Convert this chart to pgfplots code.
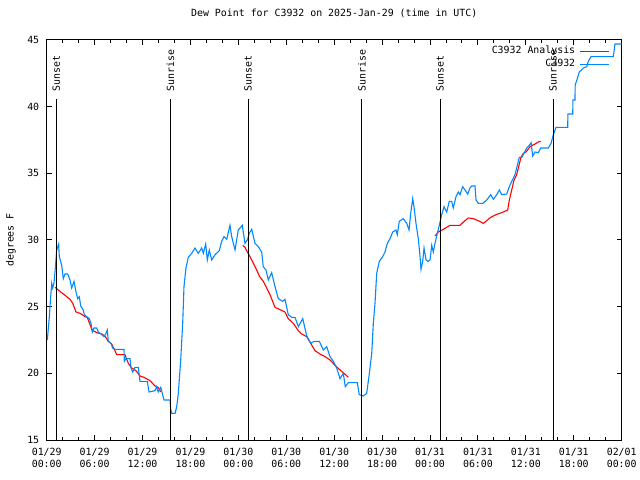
\documentclass[border=0pt]{standalone}
\usepackage{fontspec}
\setmainfont{DejaVu Sans Mono}
\usepackage{pgfplots}
\pgfplotsset{compat=1.18}
\definecolor{obsblue}{RGB}{0,136,255}
\definecolor{anred}{RGB}{255,0,0}
\newcommand\myfont{\fontsize{9.9bp}{12bp}\selectfont}
\begin{document}
\begin{tikzpicture}[font=\myfont]
\useasboundingbox (0,0) rectangle (640bp,480bp);
\begin{axis}[
  at={(46.7bp,40bp)}, anchor=south west,
  scale only axis, width=575bp, height=400bp,
  xmin=0, xmax=72, ymin=15, ymax=45,
  axis line style={line width=1bp},
  tick style={line width=1bp, black},
  tick align=inside, tick pos=both,
  major tick length=5bp, minor tick length=3bp,
  xtick={0,6,...,72}, minor x tick num=2,
  xticklabels={{01/29\\00:00},{01/29\\06:00},{01/29\\12:00},{01/29\\18:00},{01/30\\00:00},{01/30\\06:00},{01/30\\12:00},{01/30\\18:00},{01/31\\00:00},{01/31\\06:00},{01/31\\12:00},{01/31\\18:00},{02/01\\00:00}},
  xticklabel style={align=center, font=\myfont, yshift=-5bp},
  ytick={15,20,...,45},
  yticklabel style={font=\myfont, xshift=-4bp},
  /pgf/number format/assume math mode=true,
  ylabel={degrees F},
  ylabel style={at={(axis description cs:0,0.5)}, anchor=center, yshift=35.7bp, font=\myfont},
  title={Dew Point for C3932 on 2025-Jan-29 (time in UTC)},
  title style={at={(axis description cs:0.5,1)}, anchor=center, yshift=21bp, font=\myfont},
  unbounded coords=jump,
  legend style={at={(axis description cs:1,1)}, anchor=north east, xshift=-11.7bp, yshift=-4.5bp,
    draw=none, fill=none, inner sep=0pt, row sep=0pt, column sep=3bp,
    nodes={inner sep=1.5bp, text height=7.5bp, text depth=2.5bp, font=\myfont}},
  legend plot pos=right, legend cell align=right,
  legend image code/.code={\draw[#1] (0bp,0bp) -- (29bp,0bp);},
]
% Analysis (red)
\addplot[anred, line width=1.1bp] coordinates {
(1.04,26.45) (1.45,26.25) (2.08,25.95) (2.50,25.75) (2.92,25.55) (3.26,25.25) (3.67,24.6) (4.17,24.5)
(4.80,24.25) (5.08,24.2) (5.33,23.8) (5.67,23.25) (6.26,23.05) (6.89,22.95) (7.30,22.8) (7.71,22.4)
(8.14,22.2) (8.77,21.4) (9.80,21.4) (10.22,20.75) (10.64,20.4) (11.18,20.2) (11.68,19.8) (12.18,19.7)
(12.94,19.45) (13.56,19.05) (13.97,18.95) (14.28,18.6)
(20,nan)
(24.54,29.6) (24.83,29.45) (25.12,29.1) (25.46,28.75) (25.87,28.25) (26.30,27.75) (26.62,27.3) (27.12,26.9)
(27.55,26.4) (27.96,25.9) (28.59,24.95) (29.13,24.8) (29.84,24.6) (30.25,24.1) (30.88,23.75) (31.51,23.2)
(31.93,22.95) (32.56,22.75) (33.06,22.25) (33.60,21.7) (34.22,21.45) (34.85,21.25) (35.48,21.0) (36.10,20.6)
(36.73,20.25) (37.23,20.0) (37.77,19.7)
(43,nan)
(48.62,30.3) (49.04,30.6) (49.66,30.8) (50.50,31.1) (51.75,31.1) (52.38,31.45) (52.79,31.65) (53.42,31.6)
(54.04,31.45) (54.67,31.25) (55.10,31.45) (55.60,31.7) (56.26,31.9) (56.98,32.05) (57.73,32.25) (57.93,33.0)
(58.23,33.75) (58.52,34.5) (58.85,34.9) (59.14,35.6) (59.39,36.2) (59.68,36.5) (60.02,36.6) (60.52,37.0)
(61.15,37.2) (61.56,37.35) (61.86,37.4)
};
\addlegendentry{C3932 Analysis}
% Observations (blue)
\addplot[obsblue, line width=1.1bp] coordinates {
(0.08,22.5) (0.33,24.25) (0.50,25.75) (0.63,26.75) (0.75,26.4) (0.91,26.75) (1.08,27.9) (1.25,29.25)
(1.50,29.7) (1.58,28.75) (1.88,28.1) (2.08,27.1) (2.29,27.45) (2.63,27.45) (2.92,27.0) (3.13,26.4)
(3.42,26.9) (3.67,26.1) (3.88,25.6) (4.08,25.75) (4.26,25.05) (4.58,24.75) (4.71,24.4) (5.01,24.25)
(5.33,24.1) (5.55,23.75) (5.71,23.1) (5.92,23.4) (6.26,23.4) (6.46,23.1) (6.89,22.9) (7.18,22.75)
(7.43,23.0) (7.59,23.25) (7.71,22.4) (8.05,22.25) (8.26,21.9) (8.55,21.8) (9.68,21.8) (9.72,20.9)
(9.93,21.1) (10.43,21.1) (10.56,20.4) (10.77,20.1) (11.06,20.45) (11.47,20.45) (11.68,19.4) (12.60,19.4)
(12.81,18.6) (13.56,18.7) (13.77,19.0) (13.97,18.6) (14.28,18.95) (14.69,18.0) (15.44,18.0) (15.53,17.3)
(15.65,17.0) (16.07,17.0) (16.28,17.5) (16.48,18.5) (16.78,21.0) (17.03,23.75) (17.19,26.5) (17.44,27.9)
(17.73,28.7) (18.16,29.0) (18.57,29.4) (18.98,29.0) (19.41,29.4) (19.61,29.0) (19.91,29.7) (20.11,28.5)
(20.36,29.25) (20.66,28.5) (21.08,28.9) (21.61,29.2) (21.91,29.9) (22.20,30.25) (22.54,30.05) (22.95,31.1)
(23.17,30.25) (23.58,29.25) (23.99,30.75) (24.49,31.1) (24.83,29.75) (25.12,30.0) (25.37,30.5) (25.67,30.8)
(26.08,29.75) (26.50,29.5) (26.92,29.1) (27.12,28.0) (27.46,27.75) (27.75,27.0) (28.17,27.55) (28.59,26.5)
(29.00,25.6) (29.55,25.4) (29.84,25.55) (30.25,24.4) (30.68,24.2) (31.09,24.2) (31.51,23.5) (32.06,24.1)
(32.56,22.8) (33.06,22.25) (33.47,22.4) (34.14,22.4) (34.64,21.75) (35.06,22.0) (35.48,21.25) (35.89,20.9)
(36.31,20.4) (36.73,19.6) (37.14,20.0) (37.39,19.0) (37.77,19.3) (38.89,19.3) (39.14,18.4) (39.64,18.3)
(40.07,18.5) (40.40,20.0) (40.70,21.5) (40.90,23.75) (41.11,25.25) (41.32,27.5) (41.65,28.4) (42.07,28.75)
(42.36,29.1) (42.65,29.75) (42.99,30.1) (43.33,30.6) (43.74,30.75) (43.90,30.4) (44.15,31.4) (44.65,31.6)
(45.08,31.25) (45.37,30.75) (45.58,32.0) (45.83,33.1) (45.99,32.5) (46.24,31.25) (46.53,30.1) (46.75,28.75)
(46.87,27.8) (47.08,28.4) (47.25,29.4) (47.50,28.5) (47.78,28.4) (48.00,28.5) (48.21,29.6) (48.41,29.1)
(48.62,29.75) (48.91,30.5) (49.16,31.1) (49.46,31.9) (49.75,32.5) (50.09,32.1) (50.41,32.9) (50.71,32.9)
(50.91,32.4) (51.25,33.25) (51.54,33.6) (51.75,33.4) (52.09,34.0) (52.38,33.75) (52.72,33.45) (53.00,33.9)
(53.22,34.05) (53.63,34.05) (53.76,33.0) (54.04,32.75) (54.60,32.75) (55.10,33.0) (55.60,33.4) (55.93,33.05)
(56.35,33.4) (56.68,33.75) (56.98,33.4) (57.60,33.45) (57.93,34.0) (58.23,34.4) (58.64,34.9) (58.93,35.6)
(59.18,36.2) (59.48,36.2) (59.77,36.5) (60.11,36.9) (60.43,37.1) (60.65,37.3) (60.86,36.3) (61.15,36.6)
(61.56,36.55) (61.86,36.9) (62.81,36.9) (63.15,37.25) (63.44,37.9) (63.78,38.45) (65.24,38.45) (65.26,39.45)
(65.87,39.45) (65.89,40.5) (66.15,40.5) (66.17,41.6) (66.44,42.1) (66.69,42.6) (67.20,42.9) (67.62,43.0)
(67.82,43.4) (68.16,43.75) (70.95,43.75) (71.16,44.7) (72.0,44.7)
};
\addlegendentry{C3932}
% Sunset / sunrise markers
\addplot[black, line width=1bp, forget plot] coordinates {(1.20,15) (1.20,40.58)};
\addplot[black, line width=1bp, forget plot] coordinates {(15.48,15) (15.48,40.58)};
\addplot[black, line width=1bp, forget plot] coordinates {(25.21,15) (25.21,40.58)};
\addplot[black, line width=1bp, forget plot] coordinates {(39.48,15) (39.48,40.58)};
\addplot[black, line width=1bp, forget plot] coordinates {(49.25,15) (49.25,40.58)};
\addplot[black, line width=1bp, forget plot] coordinates {(63.40,15) (63.40,40.58)};
\node[rotate=90, anchor=west, inner sep=0pt] at ([yshift=7bp]axis cs:1.20,40.58) {Sunset};
\node[rotate=90, anchor=west, inner sep=0pt] at ([yshift=7bp]axis cs:15.48,40.58) {Sunrise};
\node[rotate=90, anchor=west, inner sep=0pt] at ([yshift=7bp]axis cs:25.21,40.58) {Sunset};
\node[rotate=90, anchor=west, inner sep=0pt] at ([yshift=7bp]axis cs:39.48,40.58) {Sunrise};
\node[rotate=90, anchor=west, inner sep=0pt] at ([yshift=7bp]axis cs:49.25,40.58) {Sunset};
\node[rotate=90, anchor=west, inner sep=0pt] at ([yshift=7bp]axis cs:63.40,40.58) {Sunrise};
\end{axis}
\end{tikzpicture}
\end{document}
